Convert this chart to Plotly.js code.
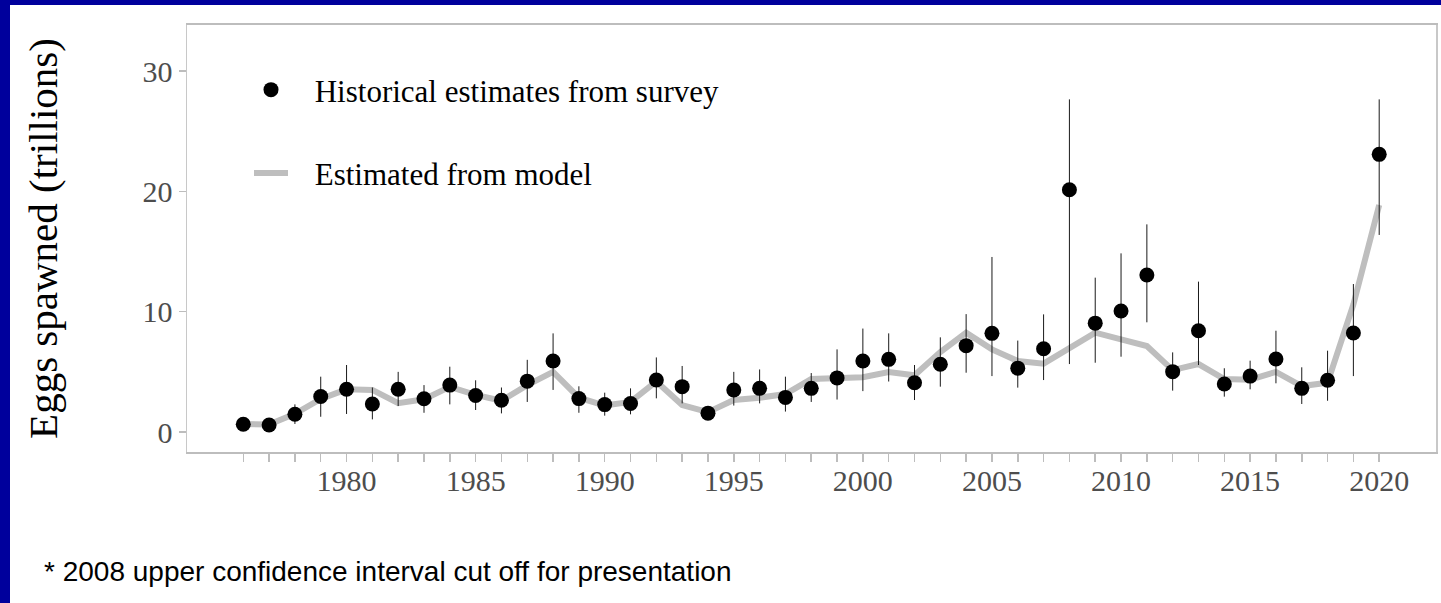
<!DOCTYPE html>
<html>
<head>
<meta charset="utf-8">
<script src="https://cdn.plot.ly/plotly-3.0.1.min.js"></script>
<style>
  html, body { margin: 0; padding: 0; }
  body { width: 1441px; height: 603px; background: #00009c; position: relative; overflow: hidden; }
  #chart { position: absolute; left: 10px; top: 5px; width: 1431px; height: 598px; background: #ffffff; }
</style>
</head>
<body>
<div id="chart"></div>
<script>
// ---- data ----
const years = [1976,1977,1978,1979,1980,1981,1982,1983,1984,1985,1986,1987,1988,1989,1990,
  1991,1992,1993,1994,1995,1996,1997,1998,1999,2000,2001,2002,2003,2004,2005,
  2006,2007,2008,2009,2010,2011,2012,2013,2014,2015,2016,2017,2018,2019,2020];

const surveyEstimate = [0.65,0.58,1.48,2.95,3.55,2.33,3.55,2.77,3.9,3.03,2.64,4.23,5.9,2.78,2.28,
  2.37,4.33,3.77,1.57,3.49,3.63,2.88,3.63,4.5,5.9,6.04,4.1,5.63,7.18,8.2,
  5.31,6.92,20.14,9.05,10.06,13.05,5.02,8.42,3.99,4.65,6.07,3.63,4.3,8.23,23.08];

const surveyLower = [0.4,0.35,0.67,1.27,1.5,1.05,2.16,1.6,2.3,1.83,1.55,2.5,3.5,1.6,1.36,
  1.47,2.8,2.38,1.3,2.2,2.38,1.7,2.5,2.7,3.4,4.2,2.66,3.77,4.93,4.65,
  3.69,4.32,5.65,5.76,6.26,9.12,3.44,5.57,2.94,3.55,4.05,2.33,2.6,4.65,16.38];

const surveyUpper = [0.9,0.8,2.3,4.6,5.57,3.7,5.0,3.9,5.43,4.3,3.7,6.0,8.2,3.8,3.27,
  3.63,6.2,5.49,1.85,5.0,5.2,4.6,4.9,6.87,8.6,8.2,5.57,7.87,9.8,14.55,
  7.6,9.78,27.65,12.83,14.85,17.26,6.62,12.5,5.3,5.93,8.42,5.38,6.76,12.3,27.65];

const modelEstimate = [0.67,0.62,1.52,2.75,3.55,3.5,2.4,2.72,3.75,3.08,2.6,3.9,5.0,2.85,2.2,
  2.5,4.2,2.24,1.65,2.66,2.85,3.16,4.4,4.5,4.55,4.98,4.72,6.65,8.26,6.87,
  5.9,5.68,6.95,8.26,7.7,7.15,5.15,5.65,4.4,4.35,5.0,3.82,4.1,10.6,18.87];

const yTickVals = [0, 10, 20, 30];
const xTickLabels = ['','','','','1980','','','','','1985','','','','','1990',
  '','','','','1995','','','','','2000','','','','','2005',
  '','','','','2010','','','','','2015','','','','','2020'];

const labelSurvey = 'Historical estimates from survey';
const labelModel = 'Estimated from model';
const yTitle = 'Eggs spawned (trillions)';
const footnote = '* 2008 upper confidence interval cut off for presentation';

// ---- traces ----
const errPlus = surveyUpper.map((u, i) => u - surveyEstimate[i]);
const errMinus = surveyLower.map((l, i) => surveyEstimate[i] - l);
const pad = '\u2002\u2009';

const modelTrace = {
  x: years, y: modelEstimate, type: 'scatter', mode: 'lines',
  name: pad + labelModel, legendgroup: 'model', legendrank: 2,
  line: { color: '#bebebe', width: 6 },
  hoverinfo: 'x+y'
};

const surveyTrace = {
  x: years, y: surveyEstimate, type: 'scatter', mode: 'markers',
  name: pad + labelSurvey, legendgroup: 'survey', legendrank: 1,
  marker: { color: '#000000', size: 15 },
  error_y: { type: 'data', symmetric: false, array: errPlus, arrayminus: errMinus,
             color: '#1a1a1a', thickness: 1, width: 0 },
  hoverinfo: 'x+y'
};

const serif = 'Liberation Serif, Times New Roman, serif';

const layout = {
  width: 1431, height: 598,
  margin: { l: 177, r: 5, t: 20, b: 151 },
  paper_bgcolor: '#ffffff', plot_bgcolor: '#ffffff',
  showlegend: true,
  legend: {
    x: (249 - 187) / 1249, xanchor: 'left',
    y: 1 - (63 - 25) / 427, yanchor: 'top',
    bgcolor: 'rgba(0,0,0,0)', borderwidth: 0,
    font: { family: serif, size: 31, color: '#000000' },
    tracegroupgap: 40, itemwidth: 34
  },
  xaxis: {
    range: [1973.82, 2022.2],
    tickmode: 'array', tickvals: years, ticktext: xTickLabels,
    ticks: 'outside', ticklen: 8, tickwidth: 1.5, tickcolor: '#bdbdbd',
    showgrid: false, zeroline: false,
    showline: true, linecolor: '#bdbdbd', linewidth: 2, mirror: true,
    tickfont: { family: serif, size: 30, color: '#4d4d4d' },
    ticklabelstandoff: -7
  },
  yaxis: {
    range: [-1.66, 33.83],
    tickmode: 'array', tickvals: yTickVals,
    ticks: 'outside', ticklen: 7, tickwidth: 1.5, tickcolor: '#bdbdbd',
    showgrid: false, zeroline: false,
    showline: true, linecolor: '#c8c8c8', linewidth: 1.5, mirror: true,
    tickfont: { family: serif, size: 30, color: '#4d4d4d' },
    ticklabelstandoff: 0,
    title: { text: yTitle, font: { family: serif, size: 41, color: '#000000' }, standoff: 72 }
  },
  annotations: [{
    xref: 'paper', yref: 'paper',
    x: (42 - 187) / 1249, xanchor: 'left',
    y: (452 - 571) / 427, yanchor: 'middle',
    text: footnote, showarrow: false,
    font: { family: 'Liberation Sans, Arial, sans-serif', size: 28, color: '#000000' }
  }]
};

Plotly.newPlot('chart', [modelTrace, surveyTrace], layout, { displayModeBar: false, staticPlot: true });
</script>
</body>
</html>
